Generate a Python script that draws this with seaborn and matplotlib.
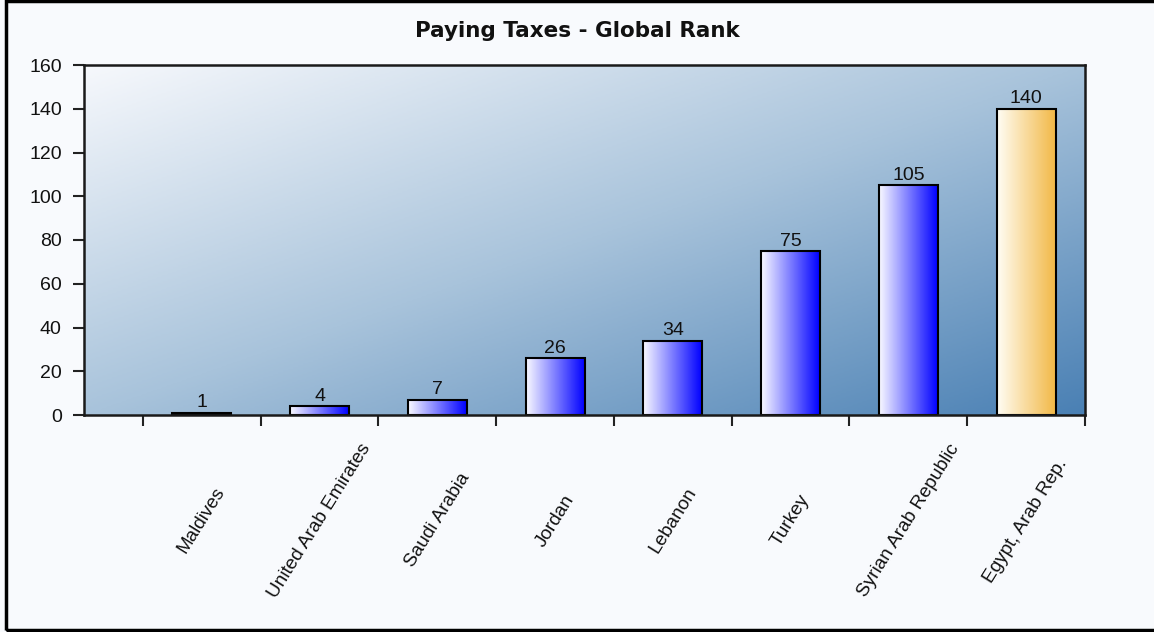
import numpy as np
import matplotlib
matplotlib.use("Agg")
import matplotlib.pyplot as plt
from matplotlib.colors import LinearSegmentedColormap
from matplotlib.patches import Rectangle
import seaborn as sns

categories = ["Maldives", "United Arab Emirates", "Saudi Arabia", "Jordan",
              "Lebanon", "Turkey", "Syrian Arab Republic", "Egypt, Arab Rep."]
values = [1, 4, 7, 26, 34, 75, 105, 140]
highlight = "Egypt, Arab Rep."
y_ticks = [0, 20, 40, 60, 80, 100, 120, 140, 160]
title = "Paying Taxes - Global Rank"

sns.set_theme(style="white")
plt.rcParams["font.family"] = ["Liberation Sans", "DejaVu Sans"]

W, H = 1154, 632
fig = plt.figure(figsize=(W / 100, H / 100), dpi=100, facecolor="#F8FAFD")
ax = fig.add_axes([84 / W, 1 - 415 / H, 1001 / W, 350 / H])

# background gradient of plot area
bg_cmap = LinearSegmentedColormap.from_list(
    "bg", [(0.0, "#F6F8FC"), (0.5, "#A8C3DB"), (1.0, "#4A80B4")])
uu, vv = np.meshgrid(np.linspace(0, 1, 400), np.linspace(0, 1, 200))
tt = (uu + vv) / 2.0
ax.imshow(tt, cmap=bg_cmap, extent=[0, 1, 0, 1], transform=ax.transAxes,
          aspect="auto", origin="upper", zorder=0, interpolation="bilinear")

sns.barplot(x=categories, y=values, width=0.5, ax=ax, color="white",
            edgecolor="black", linewidth=1.5, zorder=2)

blue_cmap = LinearSegmentedColormap.from_list("b", ["#FAFAFF", "#0000FF"])
orange_cmap = LinearSegmentedColormap.from_list("o", ["#FFFDF5", "#F2B845"])
grad = np.linspace(0, 1, 256).reshape(1, -1)
for cat, patch in zip(categories, ax.patches):
    x0, y0 = patch.get_x(), patch.get_y()
    w, h = patch.get_width(), patch.get_height()
    cm = orange_cmap if cat == highlight else blue_cmap
    im = ax.imshow(grad, cmap=cm, extent=[x0, x0 + w, y0, y0 + h],
                   aspect="auto", zorder=2.5, interpolation="bilinear")
    im.set_clip_path(patch)
    patch.set_facecolor("none")
    patch.set_zorder(3)

ax.bar_label(ax.containers[0], labels=[str(v) for v in values], padding=1,
             fontsize=14, color="#111111", zorder=4)

ax.set_xlim(-1, 7.5)
ax.set_ylim(0, 160)
ax.set_yticks(y_ticks)
ax.tick_params(axis="y", length=8, width=1.5, color="#222222", pad=8,
               labelsize=14, labelcolor="#111111", left=True)
ax.set_xticks(range(len(categories)))
ax.set_xticklabels(categories, rotation=58, ha="center", va="center",
                   fontsize=13.7, color="#111111")
ax.tick_params(axis="x", which="major", length=0, pad=76, bottom=True)
ax.set_xticks(np.arange(-0.5, len(categories) + 0.5, 1), minor=True)
ax.tick_params(axis="x", which="minor", length=8, width=1.5,
               color="#222222", bottom=True)
ax.set_xlabel("")
ax.set_ylabel("")
for side, sp in ax.spines.items():
    sp.set_visible(True)
    sp.set_color("#1a1a1a")
    sp.set_linewidth(1.8)
    sp.set_zorder(5)

fig.text(0.5, 1 - 31 / H, title, ha="center", va="center",
         fontsize=15.5, fontweight="bold", color="#111111",
         family=["DejaVu Sans"])

fig.patches.append(Rectangle((6 / W, 2 / H), (W + 20) / W, 1 - 3 / H,
                             transform=fig.transFigure, fill=False,
                             edgecolor="black", linewidth=2.5))

fig.savefig("out.png", dpi=100, facecolor=fig.get_facecolor())
